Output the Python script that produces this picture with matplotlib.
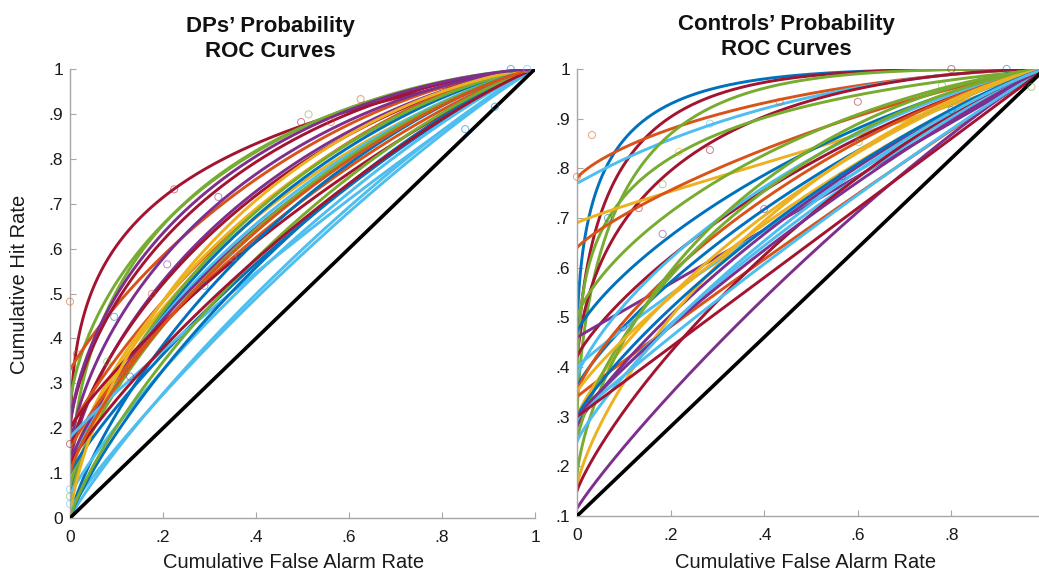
import numpy as np
import matplotlib
matplotlib.use("Agg")
import matplotlib.pyplot as plt
from statistics import NormalDist

plt.rcParams['font.family'] = ['Liberation Sans', 'DejaVu Sans']

# MATLAB default colour order
C = {'blue': '#0072BD', 'orange': '#D95319', 'yellow': '#EDB120', 'purple': '#7E2F8E',
     'green': '#77AC30', 'lblue': '#4DBEEE', 'dred': '#A2142F'}

# ---- DPs panel: fitted ROC curves (colour, intercept, a, b) ----
dp_colors = ['dred', 'green', 'green', 'orange', 'dred', 'purple', 'purple', 'dred', 'orange', 'yellow',
             'yellow', 'blue', 'green', 'lblue', 'purple', 'green', 'orange', 'dred', 'blue', 'blue',
             'lblue', 'lblue', 'lblue', 'lblue', 'blue', 'yellow', 'green', 'dred', 'orange', 'purple']
dp_y0 = [0.10, 0.25, 0.05, 0.33, 0.20, 0.15, 0.12, 0.14, 0.20, 0.10,
         0.08, 0.05, 0.03, 0.10, 0.12, 0.07, 0.15, 0.20, 0.00, 0.10,
         0.18, 0.05, 0.00, 0.02, 0.00, 0.00, 0.00, 0.12, 0.10, 0.20]
dp_a = [1.08, 0.94, 1.10, 0.62, 0.90, 0.85, 0.75, 0.70, 0.55, 0.65,
        0.60, 0.65, 0.70, 0.55, 0.50, 0.55, 0.40, 0.30, 0.55, 0.30,
        0.12, 0.30, 0.25, 0.20, 0.40, 0.80, 0.45, 0.30, 0.50, 0.95]
dp_b = [0.72, 1.00, 0.90, 1.10, 1.00, 1.00, 1.00, 1.00, 1.10, 1.00,
        0.95, 1.00, 1.00, 1.00, 1.00, 1.00, 1.00, 1.00, 1.00, 1.00,
        1.00, 1.00, 1.00, 1.00, 1.00, 1.00, 1.00, 1.00, 1.00, 1.00]
# observed points
dp_pt_x = [0.0, 0.224, 0.209, 0.319, 0.497, 0.513, 0.561, 0.625, 0.85, 0.948, 0.289, 0.35, 0.366,
           0.095, 0.176, 0.08, 0.129, 0.0, 0.0, 0.0, 0.0, 0.015, 0.914, 0.983]
dp_pt_y = [0.482, 0.732, 0.565, 0.715, 0.882, 0.899, 0.882, 0.933, 0.866, 1.0, 0.517, 0.58, 0.60,
           0.448, 0.499, 0.348, 0.315, 0.165, 0.064, 0.048, 0.031, 0.365, 0.916, 1.0]
dp_pt_c = ['orange', 'dred', 'purple', 'purple', 'dred', 'green', 'orange', 'orange', 'blue', 'blue', 'blue',
           'lblue', 'green', 'blue', 'orange', 'green', 'purple', 'dred', 'lblue', 'green', 'lblue', 'orange',
           'blue', 'lblue']

# ---- Controls panel ----
ct_colors = ['blue', 'dred', 'orange', 'lblue', 'green', 'dred', 'green', 'yellow', 'orange', 'green',
             'blue', 'dred', 'purple', 'lblue', 'blue', 'lblue', 'orange', 'orange', 'yellow', 'lblue',
             'purple', 'green', 'green', 'yellow', 'dred', 'purple', 'lblue', 'yellow', 'purple', 'blue',
             'lblue', 'dred']
ct_y0 = [0.45, 0.40, 0.78, 0.77, 0.30, 0.40, 0.25, 0.69, 0.64, 0.50,
         0.47, 0.42, 0.46, 0.38, 0.36, 0.40, 0.35, 0.34, 0.30, 0.29,
         0.28, 0.25, 0.18, 0.16, 0.15, 0.115, 0.30, 0.35, 0.30, 0.30,
         0.25, 0.30]
ct_a = [2.08, 2.00, 0.76, 0.69, 1.90, 1.25, 1.30, -0.05, 0.38, 0.65,
        0.50, 0.45, 0.00, 0.55, 0.40, 0.15, 0.50, 0.05, 0.45, 0.25,
        0.35, 0.70, 0.85, 0.60, 0.40, 0.20, 0.10, 0.30, 0.20, 0.35,
        0.35, 0.00]
ct_b = [1.12, 1.20, 1.05, 1.17, 1.20, 1.00, 0.70, 0.92, 1.00, 1.00,
        1.00, 1.00, 1.00, 1.00, 1.00, 1.00, 1.00, 1.00, 1.00, 1.00,
        1.00, 1.00, 1.00, 1.00, 1.00, 1.00, 1.00, 1.00, 1.00, 1.00,
        1.00, 1.00]
ct_pt_x = [0.0, 0.032, 0.066, 0.433, 0.6, 0.218, 0.183, 0.284, 0.132, 0.183, 0.40, 0.566, 0.602,
           0.8, 0.78, 0.8, 0.918, 0.971, 0.098, 0.284]
ct_pt_y = [0.783, 0.867, 0.70, 0.934, 0.934, 0.833, 0.768, 0.837, 0.72, 0.668, 0.718, 0.784, 0.853,
           1.0, 0.967, 0.917, 1.0, 0.964, 0.48, 0.89]
ct_pt_c = ['orange', 'orange', 'blue', 'orange', 'dred', 'yellow', 'green', 'dred', 'dred', 'purple', 'purple',
           'blue', 'green', 'dred', 'green', 'blue', 'blue', 'green', 'purple', 'lblue']

dp_ticks_y = [0, .1, .2, .3, .4, .5, .6, .7, .8, .9, 1]
dp_ticklabels_y = ['0', '.1', '.2', '.3', '.4', '.5', '.6', '.7', '.8', '.9', '1']
ct_ticks_y = [.1, .2, .3, .4, .5, .6, .7, .8, .9, 1]
ct_ticklabels_y = ['.1', '.2', '.3', '.4', '.5', '.6', '.7', '.8', '.9', '1']
dp_ticks_x = [0, .2, .4, .6, .8, 1]
dp_ticklabels_x = ['0', '.2', '.4', '.6', '.8', '1']
ct_ticks_x = [0, .2, .4, .6, .8]
ct_ticklabels_x = ['0', '.2', '.4', '.6', '.8']

nd = NormalDist()
fa = np.concatenate([np.linspace(1e-6, 0.02, 200), np.linspace(0.02, 1 - 1e-6, 600)])
zfa = np.array([nd.inv_cdf(v) for v in fa])
cdf = np.vectorize(nd.cdf)


def roc(y0, a, b):
    # dual-process style ROC from intercept y0 to (1,1)
    return y0 + (1 - y0) * cdf(a + b * zfa)


fig = plt.figure(figsize=(10.39, 5.75), dpi=100)
W, H = 1039, 575
axL = fig.add_axes([70 / W, 1 - 518 / H, 465 / W, 449 / H])
axR = fig.add_axes([577 / W, 1 - 516 / H, 468 / W, 447 / H])

spine_c = '#a6a6a6'
for ax, cols, y0s, As, Bs, px, py, pc, lo in [
        (axL, dp_colors, dp_y0, dp_a, dp_b, dp_pt_x, dp_pt_y, dp_pt_c, 0.0),
        (axR, ct_colors, ct_y0, ct_a, ct_b, ct_pt_x, ct_pt_y, ct_pt_c, 0.1)]:
    for c, y0, a, b in zip(cols, y0s, As, Bs):
        ax.plot(fa, roc(y0, a, b), color=C[c], lw=2.1, solid_capstyle='round', zorder=2)
    ax.plot([0, 1], [lo, 1], color='black', lw=2.6, zorder=3)
    ax.scatter(px, py, s=26, facecolors='none', edgecolors=[C[c] for c in pc],
               linewidths=0.7, alpha=0.55, zorder=4, clip_on=False)
    ax.set_xlim(0, 1)
    ax.set_ylim(lo, 1)
    for s in ['top', 'right']:
        ax.spines[s].set_visible(False)
    for s in ['left', 'bottom']:
        ax.spines[s].set_color(spine_c)
        ax.spines[s].set_linewidth(1.0)
    ax.tick_params(direction='in', length=4, width=0.8, color=spine_c, labelsize=12.5,
                   labelcolor='#1a1a1a')
    ax.tick_params(axis='x', pad=8.5)
    ax.tick_params(axis='y', pad=5)

axL.set_xticks(dp_ticks_x, dp_ticklabels_x)
axL.set_yticks(dp_ticks_y, dp_ticklabels_y)
axR.set_xticks(ct_ticks_x, ct_ticklabels_x)
axR.set_yticks(ct_ticks_y, ct_ticklabels_y)

fig.text(270 / W, 1 - 39 / H, 'DPs’ Probability\nROC Curves', ha='center', va='center',
         fontsize=16, fontweight='bold', color='#111111')
fig.text(786 / W, 1 - 37 / H, 'Controls’ Probability\nROC Curves', ha='center', va='center',
         fontsize=16, fontweight='bold', color='#111111')
fig.text(294 / W, 1 - 562 / H, 'Cumulative False Alarm Rate', ha='center', va='center',
         fontsize=14.5, color='#1a1a1a')
fig.text(806 / W, 1 - 563 / H, 'Cumulative False Alarm Rate', ha='center', va='center',
         fontsize=14.5, color='#1a1a1a')
fig.text(20 / W, 1 - 284 / H, 'Cumulative Hit Rate', ha='center', va='center', rotation=90,
         fontsize=14.5, color='#1a1a1a')

fig.savefig('out.png', dpi=100)
